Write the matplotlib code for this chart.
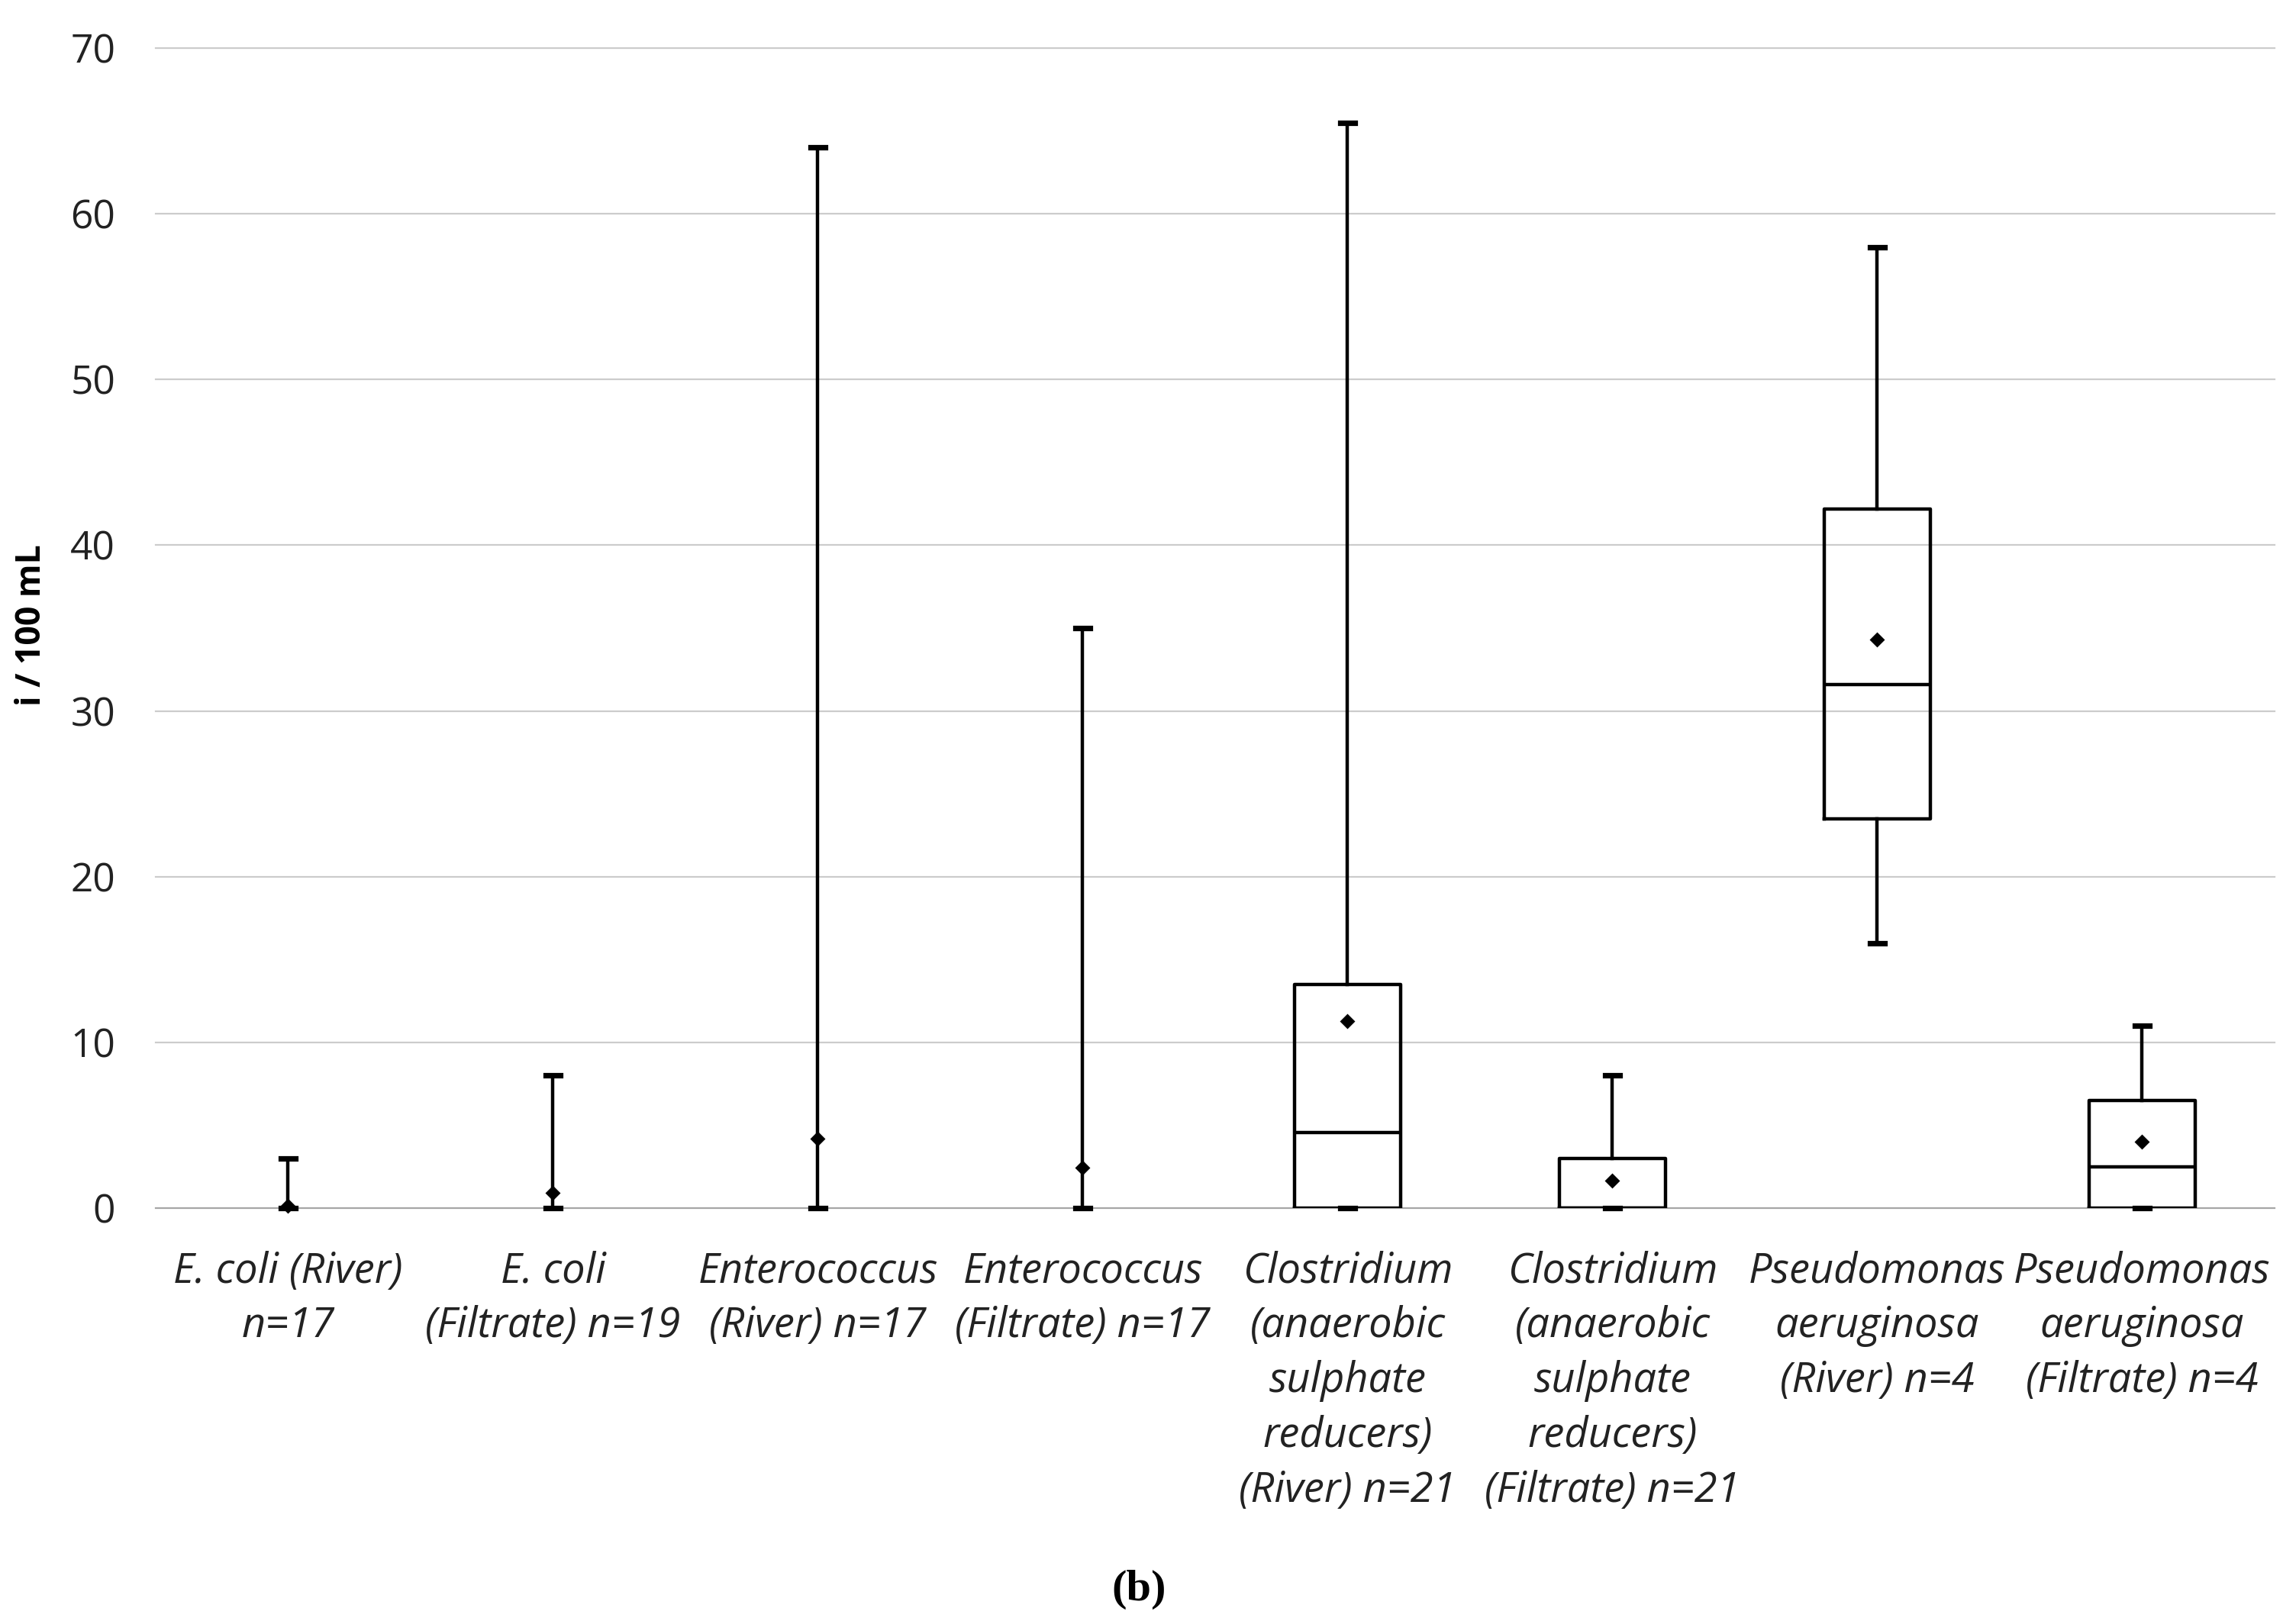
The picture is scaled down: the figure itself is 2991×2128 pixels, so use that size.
import matplotlib
matplotlib.use("Agg")
import matplotlib.pyplot as plt

categories = [
    "E. coli (River)\nn=17",
    "E. coli\n(Filtrate) n=19",
    "Enterococcus\n(River) n=17",
    "Enterococcus\n(Filtrate) n=17",
    "Clostridium\n(anaerobic\nsulphate\nreducers)\n(River) n=21",
    "Clostridium\n(anaerobic\nsulphate\nreducers)\n(Filtrate) n=21",
    "Pseudomonas\naeruginosa\n(River) n=4",
    "Pseudomonas\naeruginosa\n(Filtrate) n=4",
]
whisker_low = [0, 0, 0, 0, 0, 0, 16, 0]
q1 = [0, 0, 0, 0, 0, 0, 23.5, 0]
median = [0, 0, 0, 0, 4.55, 0, 31.6, 2.5]
q3 = [0, 0, 0, 0, 13.5, 3.0, 42.2, 6.5]
whisker_high = [3, 8, 64, 35, 65.5, 8, 58, 11]
means = [0.15, 0.9, 4.2, 2.45, 11.3, 1.65, 34.3, 4.0]
yticks = [0, 10, 20, 30, 40, 50, 60, 70]

fig = plt.figure(figsize=(14.955, 10.64), dpi=200)
ax = fig.add_axes([0.0682, 0.2561, 0.9281, 0.7143])

stats = []
for i in range(len(categories)):
    stats.append(dict(whislo=whisker_low[i], q1=q1[i], med=median[i], q3=q3[i],
                      whishi=whisker_high[i], mean=means[i], fliers=[], label=categories[i]))

positions = list(range(1, len(categories) + 1))
art = ax.bxp(stats, positions=positions, widths=0.4, capwidths=0.055, showmeans=True,
             showfliers=False, patch_artist=False,
             boxprops=dict(color="black", linewidth=1.6),
             medianprops=dict(color="black", linewidth=1.6),
             whiskerprops=dict(color="black", linewidth=1.6),
             capprops=dict(color="black", linewidth=2.6),
             meanprops=dict(marker="D", markersize=4.2, markerfacecolor="black",
                            markeredgecolor="black"),
             zorder=3)
for i in range(len(categories)):
    if q3[i] == q1[i]:
        art["boxes"][i].set_visible(False)
        art["medians"][i].set_visible(False)
for m in art["means"]:
    m.set_clip_on(False)
    m.set_zorder(4)
for c in art["caps"]:
    c.set_clip_on(False)

ax.set_xlim(0.5, len(categories) + 0.5)
ax.set_ylim(0, 70)
ax.set_yticks(yticks)
for y in yticks:
    ax.axhline(y, color="#a6a6a6" if y == 0 else "#cccccc", linewidth=0.8, zorder=1, clip_on=False)

for s in ax.spines.values():
    s.set_visible(False)
ax.tick_params(axis="both", length=0)
ax.tick_params(axis="y", pad=19, labelsize=18.5)
ax.set_yticklabels([str(t) for t in yticks], fontfamily="Open Sans", color="#222222")
ax.set_xticks(positions)
ax.set_xticklabels(categories, fontfamily="Open Sans", fontstyle="italic", fontsize=19.5,
                   linespacing=1.4, color="#222222")
ax.tick_params(axis="x", pad=20)

fig.text(0.014, 0.615, "i / 100 mL", rotation=90, ha="center", va="center",
         fontsize=16, fontweight="bold", fontfamily="Open Sans")
fig.text(0.499, 0.021, "(b)", ha="center", va="center", fontsize=21,
         fontweight="bold", fontfamily="Liberation Serif")

fig.savefig("out.png", dpi=200)
